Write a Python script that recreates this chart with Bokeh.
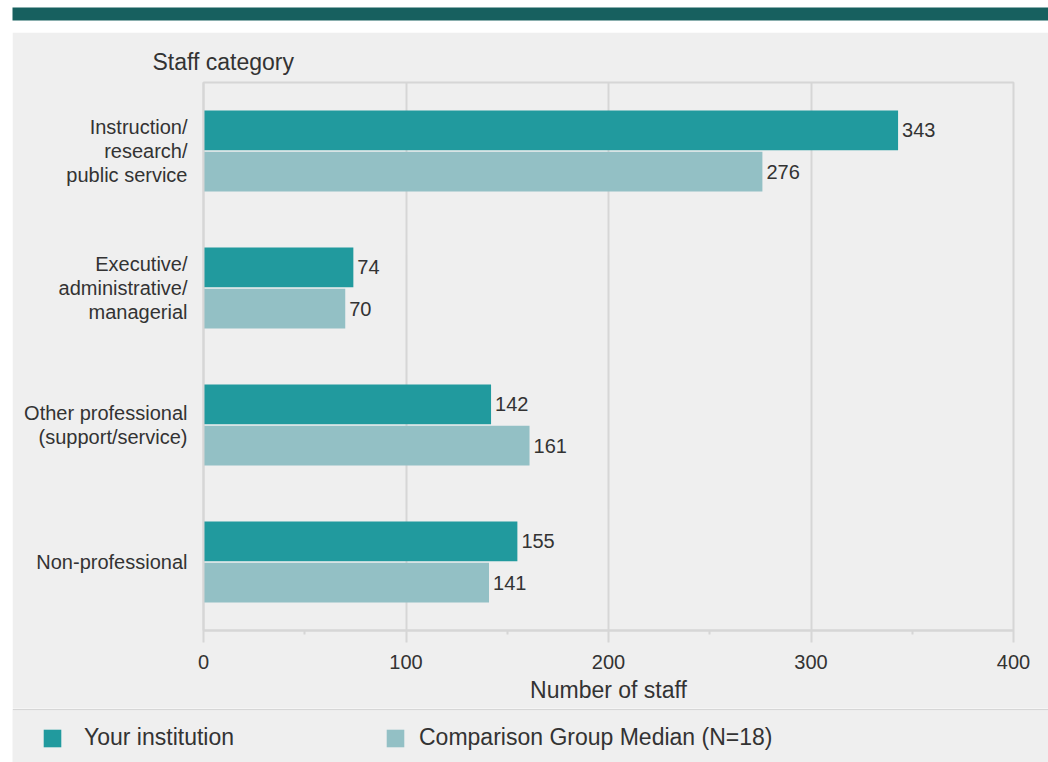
from bokeh.plotting import figure
from bokeh.models import (Range1d, FactorRange, FixedTicker, Title, Legend,
                          LegendItem, ColumnDataSource, Spacer)
from bokeh.transform import dodge
from bokeh.layouts import column, row
from bokeh.core.properties import value
from bokeh.embed import file_html
from bokeh.resources import INLINE

# ---- data ----
categories = ["Instruction/\nresearch/\npublic service",
              "Executive/\nadministrative/\nmanagerial",
              "Other professional\n(support/service)",
              "Non-professional"]
institution = [343, 74, 142, 155]
comparison = [276, 70, 161, 141]
series_names = ["Your institution", "Comparison Group Median (N=18)"]
x_ticks = [0, 100, 200, 300, 400]
x_minor = [50, 150, 250, 350]

FONT = "Liberation Sans"
TXT = "#333333"
DARK = "#219a9e"
LIGHT = "#93c0c5"
PANEL = "#efefef"
LINE = "#d6d6d6"

src = ColumnDataSource(dict(
    cat=categories,
    inst=institution,
    comp=comparison,
    inst_label=[str(v) for v in institution],
    comp_label=[str(v) for v in comparison],
))

# ---- top banner ----
p0 = figure(width=1048, height=32, x_range=Range1d(0, 1), y_range=Range1d(0, 1),
            x_axis_location=None, y_axis_location=None,
            toolbar_location=None, output_backend="svg",
            min_border=0, min_border_left=12, min_border_right=0,
            min_border_top=7, min_border_bottom=12,
            border_fill_color="white", background_fill_color="#17605f",
            outline_line_color=None, frame_align=False)
p0.grid.visible = False

# ---- main chart ----
y_range = FactorRange(factors=list(reversed(categories)), range_padding=0)

p = figure(width=1036, height=676, x_range=Range1d(0, 400), y_range=y_range,
           toolbar_location=None, output_backend="svg",
           min_border_left=191, min_border_right=35,
           min_border_top=50, min_border_bottom=78,
           background_fill_color=PANEL, border_fill_color=PANEL,
           outline_line_color=LINE, outline_line_width=2, frame_align=False)

p.hbar(y=dodge("cat", 0.15, range=y_range), right="inst", left=0, height=0.29,
       source=src, fill_color=DARK, line_color=None)
p.hbar(y=dodge("cat", -0.15, range=y_range), right="comp", left=0, height=0.29,
       source=src, fill_color=LIGHT, line_color=None)

p.text(x="inst", y=dodge("cat", 0.15, range=y_range), text="inst_label",
       source=src, x_offset=4, text_baseline="middle", text_align="left",
       text_font=value(FONT), text_font_size="20px", text_color=TXT)
p.text(x="comp", y=dodge("cat", -0.15, range=y_range), text="comp_label",
       source=src, x_offset=4, text_baseline="middle", text_align="left",
       text_font=value(FONT), text_font_size="20px", text_color=TXT)

p.title = Title(text="Staff category", align="left", offset=-51, standoff=15,
                text_font=FONT, text_font_size="23px", text_font_style="normal",
                text_color=TXT)

# x axis
p.xaxis.ticker = FixedTicker(ticks=x_ticks, minor_ticks=x_minor)
p.xaxis.axis_label = "Number of staff"
p.xaxis.axis_label_text_font = FONT
p.xaxis.axis_label_text_font_size = "23px"
p.xaxis.axis_label_text_font_style = "normal"
p.xaxis.axis_label_text_color = TXT
p.xaxis.axis_label_standoff = 5
p.xaxis.major_label_text_font = FONT
p.xaxis.major_label_text_font_size = "20px"
p.xaxis.major_label_text_color = TXT
p.xaxis.major_label_standoff = 12
p.xaxis.axis_line_color = LINE
p.xaxis.axis_line_width = 2
p.xaxis.major_tick_line_color = LINE
p.xaxis.major_tick_line_width = 2
p.xaxis.major_tick_out = 12
p.xaxis.major_tick_in = 0
p.xaxis.minor_tick_line_color = LINE
p.xaxis.minor_tick_line_width = 2
p.xaxis.minor_tick_out = 4
p.xaxis.minor_tick_in = 0

# y axis
p.yaxis.major_label_text_font = FONT
p.yaxis.major_label_text_font_size = "20px"
p.yaxis.major_label_text_color = TXT
p.yaxis.major_label_text_line_height = 1.1
p.yaxis.major_label_standoff = 10
p.yaxis.axis_line_color = LINE
p.yaxis.axis_line_width = 2
p.yaxis.major_tick_line_color = None
p.yaxis.minor_tick_line_color = None

p.xgrid.ticker = FixedTicker(ticks=x_ticks)
p.xgrid.grid_line_color = LINE
p.xgrid.grid_line_width = 2
p.ygrid.grid_line_color = None

# ---- legend strip ----
p2 = figure(width=1036, height=54, x_range=Range1d(0, 1), y_range=Range1d(0, 1),
            x_axis_location=None, y_axis_location=None,
            toolbar_location=None, output_backend="svg",
            min_border=0, min_border_left=0, min_border_right=0,
            min_border_top=2, min_border_bottom=0,
            border_fill_color=LINE, background_fill_color=PANEL,
            outline_line_color=None, frame_align=False)
p2.grid.visible = False
# legend stand-ins (drawn below the visible range of the strip)
r1 = p2.hbar(y=-5, right="inst", left=0, height=0.5, source=src,
             fill_color=DARK, line_color=None)
r2 = p2.hbar(y=-5, right="comp", left=0, height=0.5, source=src,
             fill_color=LIGHT, line_color=None)


def make_legend(item_label, renderer, x, standoff):
    lg = Legend(items=[LegendItem(label=item_label, renderers=[renderer])],
                location=(x, 11), orientation="horizontal",
                glyph_width=22, glyph_height=22, label_height=22,
                label_standoff=standoff, padding=0, margin=0,
                border_line_color=None, background_fill_alpha=0,
                label_text_font=FONT, label_text_font_size="23px",
                label_text_color=TXT)
    p2.add_layout(lg, "center")


make_legend(series_names[0], r1, 29, 21)
make_legend(series_names[1], r2, 372, 13)

layout = column(p0, row(Spacer(width=12, height=730), column(p, p2)))

open("out.html", "w").write(file_html(layout, INLINE))
